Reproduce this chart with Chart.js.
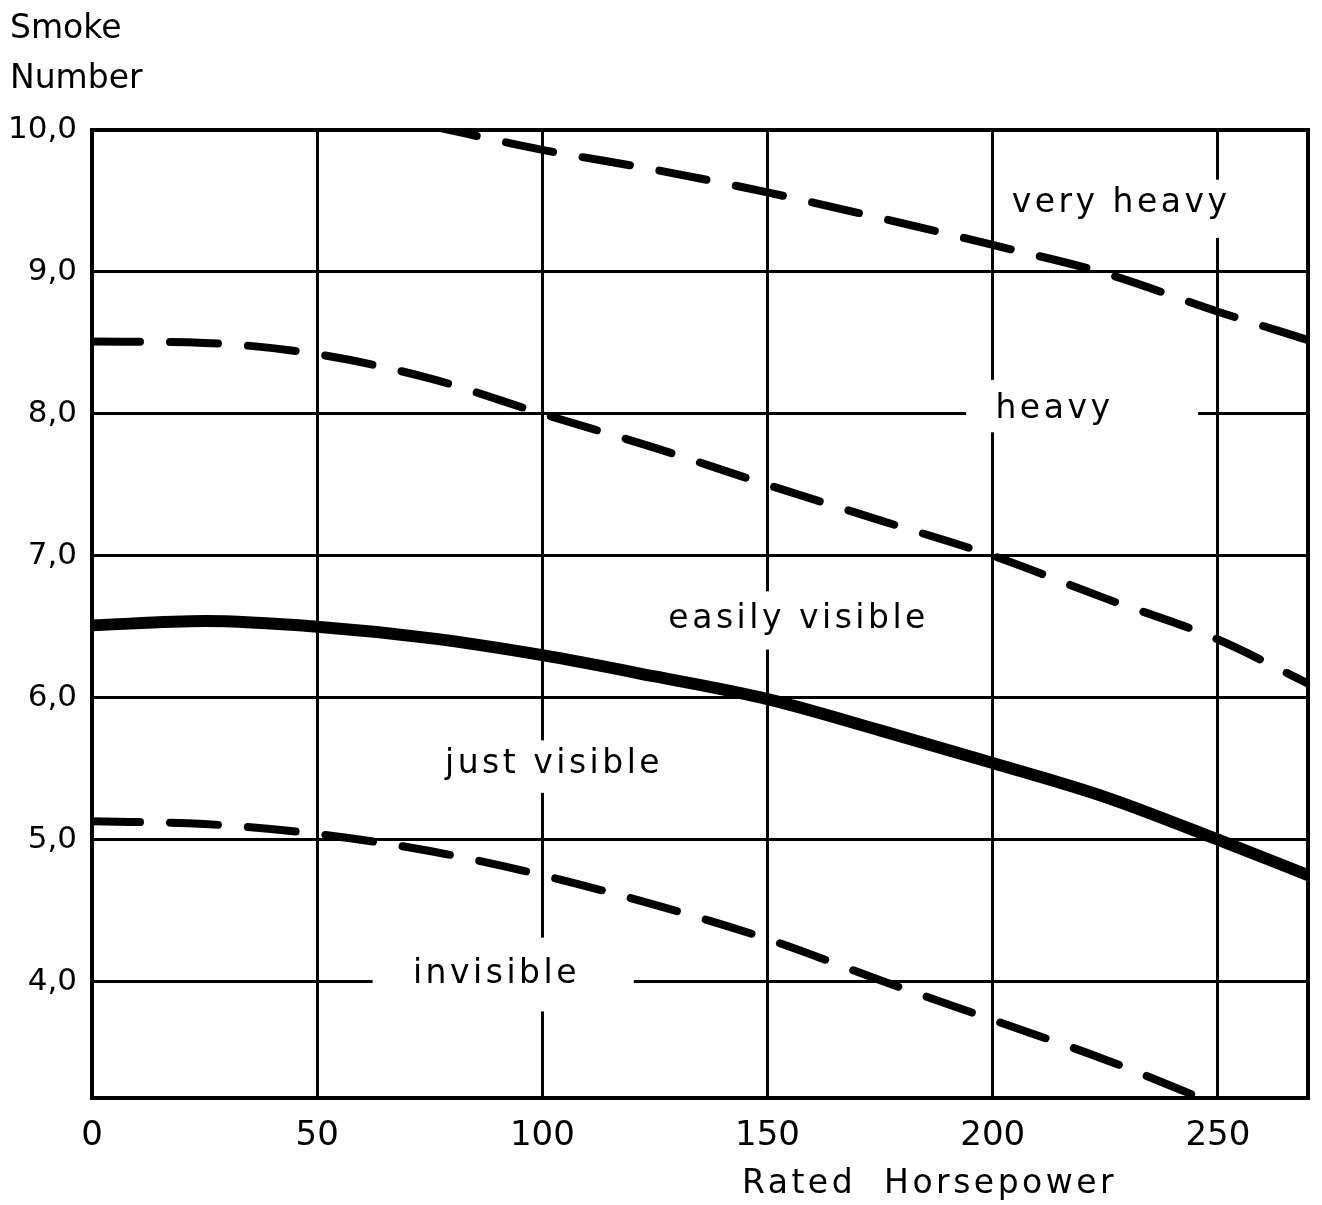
<!DOCTYPE html>
<html>
<head>
<meta charset="utf-8">
<script src="https://cdn.jsdelivr.net/npm/chart.js@4/dist/chart.umd.min.js"></script>
<style>
  html, body { margin: 0; padding: 0; background: #fff; }
  #wrap { width: 1322px; height: 1205px; }
</style>
</head>
<body>
<div id="wrap"><canvas id="smokeChart"></canvas></div>
<script>
// rated horsepower sample points
const horsepower = [0, 25, 50, 75, 100, 125, 150, 175, 200, 225, 250, 270];
// boundary curves (smoke number)
const veryHeavyLimit = [null, null, null, 10.03, 9.86, 9.72, 9.56, 9.38, 9.19, 8.99, 8.72, 8.52];
const heavyLimit = [8.51, 8.5, 8.42, 8.25, 8.0, 7.76, 7.5, 7.25, 7.0, 6.7, 6.41, 6.1];
const visibleLimit = [6.51, 6.54, 6.5, 6.42, 6.3, 6.15, 5.99, 5.77, 5.54, 5.3, 5.0, 4.75];
const invisibleLimit = [5.13, 5.11, 5.04, 4.92, 4.75, 4.54, 4.3, 4.01, 3.73, 3.45, 3.13, null];

const xTicks = [0, 50, 100, 150, 200, 250];
const yTicks = [4, 5, 6, 7, 8, 9, 10];

// zone labels: text, centre, and the white gap cut into the grid
const zoneLabels = [
  { text: 'very heavy', x: 228.5, y: 9.48, box: [202.3, 254.4, 9.65, 9.24] },
  { text: 'heavy', x: 213.7, y: 8.03, box: [194.1, 245.6, 8.24, 7.87] },
  { text: 'easily visible', x: 156.9, y: 6.55, box: [125.9, 187.9, 6.75, 6.34] },
  { text: 'just visible', x: 102.6, y: 5.53, box: [76.0, 129.2, 5.7, 5.33] },
  { text: 'invisible', x: 89.8, y: 4.05, box: [62.3, 120.3, 4.31, 3.79] },
];

const FONT = '"DejaVu Sans", sans-serif';

const toPoints = values => horsepower.map((hp, i) => ({ x: hp, y: values[i] }));

const dashed = values => ({
  data: toPoints(values),
  borderColor: '#000',
  borderWidth: 8,
  borderDash: [48, 30],
  borderCapStyle: 'round',
  pointRadius: 0,
  cubicInterpolationMode: 'monotone',
  spanGaps: false,
  clip: 0,
});

const zonePlugin = {
  id: 'zones',
  beforeDatasetsDraw(chart) {
    const { ctx, chartArea, scales } = chart;
    const xs = scales.x;
    const ys = scales.y;
    ctx.save();
    // gaps in the grid behind the labels
    ctx.fillStyle = '#fff';
    zoneLabels.forEach(l => {
      const x0 = xs.getPixelForValue(l.box[0]);
      const x1 = xs.getPixelForValue(l.box[1]);
      const y0 = ys.getPixelForValue(l.box[2]);
      const y1 = ys.getPixelForValue(l.box[3]);
      ctx.fillRect(x0, y0, x1 - x0, y1 - y0);
    });
    ctx.fillStyle = '#000';
    ctx.font = '33px ' + FONT;
    ctx.letterSpacing = '3.5px';
    ctx.textAlign = 'center';
    ctx.textBaseline = 'middle';
    zoneLabels.forEach(l => {
      ctx.fillText(l.text, xs.getPixelForValue(l.x), ys.getPixelForValue(l.y));
    });
    // frame
    ctx.letterSpacing = '0px';
    ctx.strokeStyle = '#000';
    ctx.lineWidth = 4;
    ctx.strokeRect(chartArea.left, chartArea.top, chartArea.right - chartArea.left, chartArea.bottom - chartArea.top);
    ctx.restore();
  },
  afterDraw(chart) {
    const { ctx, chartArea } = chart;
    ctx.save();
    ctx.fillStyle = '#000';
    ctx.textAlign = 'left';
    ctx.textBaseline = 'alphabetic';
    ctx.font = '33px ' + FONT;
    ctx.fillText('Smoke', 10, chartArea.top - 92);
    ctx.fillText('Number', 10, chartArea.top - 42);
    ctx.letterSpacing = '3.5px';
    ctx.fillText('Rated  Horsepower', 742, chartArea.bottom + 95);
    ctx.restore();
  },
};

const chartEl = document.getElementById('smokeChart').getContext('2d');
const smokeChart = new Chart(chartEl, {
  type: 'line',
  data: {
    datasets: [
      dashed(veryHeavyLimit),
      dashed(heavyLimit),
      {
        data: toPoints(visibleLimit),
        borderColor: '#000',
        borderWidth: 12,
        pointRadius: 0,
        cubicInterpolationMode: 'monotone',
        clip: 0,
      },
      dashed(invisibleLimit),
    ],
  },
  options: {
    responsive: true,
    maintainAspectRatio: false,
    animation: false,
    layout: { padding: { top: 130, right: 14, left: 0, bottom: 0 } },
    plugins: {
      legend: { display: false },
      tooltip: { enabled: false },
    },
    scales: {
      x: {
        type: 'linear',
        min: 0,
        max: 270,
        afterBuildTicks: scale => {
          scale.ticks = xTicks.map(v => ({ value: v }));
        },
        afterFit: scale => {
          scale.height = 107;
        },
        grid: { color: '#000', lineWidth: 3, drawTicks: false },
        border: { display: false },
        ticks: {
          color: '#000',
          font: { family: FONT, size: 34 },
          padding: 18,
          maxRotation: 0,
        },
      },
      y: {
        type: 'linear',
        min: 3.18,
        max: 10,
        afterBuildTicks: scale => {
          scale.ticks = yTicks.map(v => ({ value: v }));
        },
        afterFit: scale => {
          scale.width = 92;
        },
        grid: { color: '#000', lineWidth: 3, drawTicks: false },
        border: { display: false },
        ticks: {
          color: '#000',
          font: { family: FONT, size: 31 },
          padding: 15,
          callback: value => value.toFixed(1).replace('.', ','),
        },
      },
    },
  },
  plugins: [zonePlugin],
});
</script>
</body>
</html>
